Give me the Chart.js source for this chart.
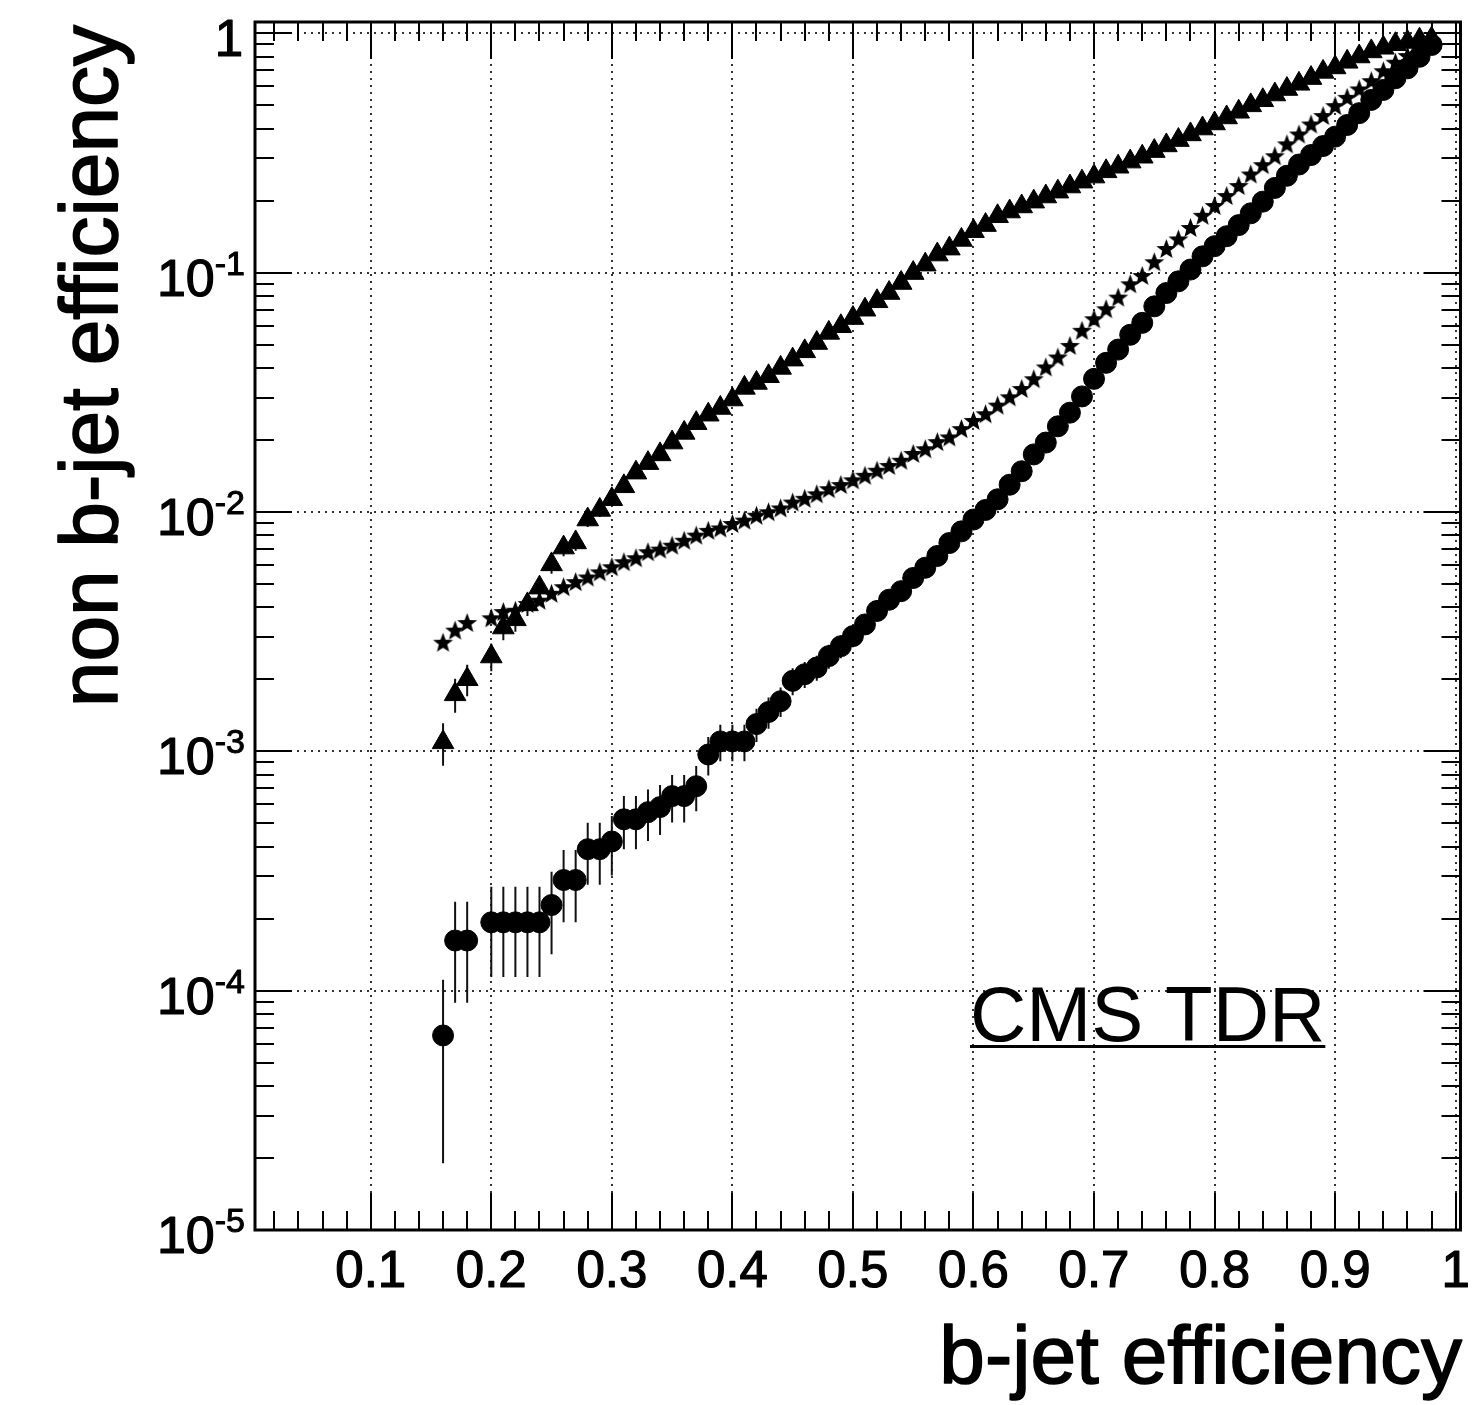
<!DOCTYPE html>
<html>
<head>
<meta charset="utf-8">
<script src="https://cdn.jsdelivr.net/npm/chart.js@4.4.0/dist/chart.umd.min.js"></script>
<style>
  html, body { margin: 0; padding: 0; background: #fff; }
  #wrap { width: 1474px; height: 1405px; }
</style>
</head>
<body>
<div id="wrap"><canvas id="roc" width="1474" height="1405"></canvas></div>
<script>
// b-jet efficiency (x) shared by the three curves
const bEff = [
  0.16, 0.17, 0.18, 0.19, 0.20, 0.21, 0.22, 0.23, 0.24, 0.25,
  0.26, 0.27, 0.28, 0.29, 0.30, 0.31, 0.32, 0.33, 0.34, 0.35,
  0.36, 0.37, 0.38, 0.39, 0.40, 0.41, 0.42, 0.43, 0.44, 0.45,
  0.46, 0.47, 0.48, 0.49, 0.50, 0.51, 0.52, 0.53, 0.54, 0.55,
  0.56, 0.57, 0.58, 0.59, 0.60, 0.61, 0.62, 0.63, 0.64, 0.65,
  0.66, 0.67, 0.68, 0.69, 0.70, 0.71, 0.72, 0.73, 0.74, 0.75,
  0.76, 0.77, 0.78, 0.79, 0.80, 0.81, 0.82, 0.83, 0.84, 0.85,
  0.86, 0.87, 0.88, 0.89, 0.90, 0.91, 0.92, 0.93, 0.94, 0.95,
  0.96, 0.97, 0.98
];

// non b-jet efficiency, filled circles (lowest curve)
const circleMistag = [
  6.5e-5, 1.62e-4, 1.62e-4, null, 1.93e-4, 1.93e-4, 1.93e-4, 1.93e-4, 1.93e-4, 2.28e-4,
  2.9e-4, 2.9e-4, 3.9e-4, 3.9e-4, 4.2e-4, 5.2e-4, 5.2e-4, 5.57e-4, 5.85e-4, 6.5e-4,
  6.5e-4, 7.15e-4, 9.7e-4, 1.1e-3, 1.1e-3, 1.1e-3, 1.3e-3, 1.46e-3, 1.62e-3, 1.97e-3,
  2.1e-3, 2.24e-3, 2.5e-3, 2.75e-3, 3.03e-3, 3.39e-3, 3.86e-3, 4.3e-3, 4.67e-3, 5.3e-3,
  5.85e-3, 6.55e-3, 7.42e-3, 8.3e-3, 9.3e-3, 1.02e-2, 1.13e-2, 1.3e-2, 1.48e-2, 1.74e-2,
  1.95e-2, 2.28e-2, 2.6e-2, 3.04e-2, 3.6e-2, 4.2e-2, 4.77e-2, 5.5e-2, 6.17e-2, 7.23e-2,
  8.22e-2, 9.2e-2, 0.103, 0.117, 0.129, 0.142, 0.158, 0.177, 0.198, 0.226,
  0.254, 0.283, 0.31, 0.338, 0.37, 0.414, 0.464, 0.527, 0.58, 0.649,
  0.714, 0.798, 0.894
];
// vertical error bars on the circles (only where they show)
const circleErr = [
  4.6e-5, 7.3e-5, 7.3e-5, null, 7.9e-5, 7.9e-5, 7.9e-5, 7.9e-5, 7.9e-5, 8.6e-5,
  9.7e-5, 9.7e-5, 1.13e-4, 1.13e-4, 1.17e-4, 1.3e-4, 1.3e-4, 1.35e-4, 1.38e-4, 1.46e-4,
  1.46e-4, 1.53e-4, 1.78e-4, 1.9e-4, 1.9e-4, 1.9e-4, 2.06e-4, 2.18e-4, 2.3e-4, 2.53e-4,
  2.6e-4, 2.7e-4, 2.85e-4, 3.0e-4, 3.1e-4
];

// non b-jet efficiency, filled stars (middle curve)
const starMistag = [
  2.83e-3, 3.18e-3, 3.42e-3, null, 3.58e-3, 3.8e-3, 3.85e-3, 4.11e-3, 4.24e-3, 4.53e-3,
  4.83e-3, 5.07e-3, 5.3e-3, 5.57e-3, 5.85e-3, 6.14e-3, 6.38e-3, 6.76e-3, 6.93e-3, 7.2e-3,
  7.55e-3, 7.93e-3, 8.3e-3, 8.5e-3, 8.87e-3, 9.16e-3, 9.6e-3, 9.93e-3, 1.03e-2, 1.09e-2,
  1.13e-2, 1.18e-2, 1.24e-2, 1.29e-2, 1.35e-2, 1.41e-2, 1.48e-2, 1.55e-2, 1.63e-2, 1.74e-2,
  1.82e-2, 1.95e-2, 2.04e-2, 2.21e-2, 2.39e-2, 2.55e-2, 2.77e-2, 3.0e-2, 3.25e-2, 3.57e-2,
  4.0e-2, 4.4e-2, 4.92e-2, 5.69e-2, 6.36e-2, 7.0e-2, 7.83e-2, 8.9e-2, 9.64e-2, 0.11,
  0.125, 0.137, 0.153, 0.172, 0.189, 0.208, 0.229, 0.256, 0.28, 0.305,
  0.342, 0.376, 0.414, 0.449, 0.494, 0.535, 0.58, 0.628, 0.691, 0.75,
  0.80, 0.86, 0.92
];

// non b-jet efficiency, filled triangles (upper curve)
const triMistag = [
  1.09e-3, 1.73e-3, 2.0e-3, null, 2.49e-3, 3.29e-3, 3.56e-3, 4.11e-3, 4.83e-3, 6.04e-3,
  7.1e-3, 7.46e-3, 9.3e-3, 1.02e-2, 1.13e-2, 1.28e-2, 1.46e-2, 1.6e-2, 1.74e-2, 1.95e-2,
  2.14e-2, 2.35e-2, 2.55e-2, 2.72e-2, 2.95e-2, 3.3e-2, 3.46e-2, 3.69e-2, 4.0e-2, 4.33e-2,
  4.69e-2, 5.08e-2, 5.6e-2, 5.97e-2, 6.46e-2, 7.0e-2, 7.59e-2, 8.22e-2, 9.05e-2, 9.96e-2,
  0.108, 0.119, 0.126, 0.137, 0.149, 0.158, 0.172, 0.18, 0.189, 0.198,
  0.208, 0.218, 0.229, 0.24, 0.252, 0.265, 0.277, 0.291, 0.305, 0.322,
  0.34, 0.358, 0.378, 0.40, 0.42, 0.445, 0.47, 0.50, 0.525, 0.555,
  0.585, 0.615, 0.65, 0.69, 0.72, 0.76, 0.80, 0.84, 0.87, 0.90,
  0.92, 0.94, 0.95
];
const triErr = [
  2.2e-4, 2.8e-4, 3.0e-4, null, 3.3e-4, 3.8e-4, 4.0e-4, 4.3e-4, 4.6e-4, 5.2e-4,
  5.6e-4, 5.8e-4, 6.4e-4, 6.7e-4
];

// axis ticks and labels
const xMajor = [0.1, 0.2, 0.3, 0.4, 0.5, 0.6, 0.7, 0.8, 0.9, 1.0];
const xLabels = ['0.1', '0.2', '0.3', '0.4', '0.5', '0.6', '0.7', '0.8', '0.9', '1'];
const xMinorStep = 0.02;
const yDecades = [-5, -4, -3, -2, -1, 0];

const FONT = '"Liberation Sans", Arial, Helvetica, sans-serif';

function toPoints(vals) {
    const pts = [];
    vals.forEach((v, i) => {
        if (v !== null) pts.push({x: bEff[i], y: v});
    });
    return pts;
}

// filled five-point star for the middle curve
function makeStar(outer, inner) {
    const c = document.createElement('canvas');
    const size = Math.ceil(outer * 2 + 2);
    c.width = size;
    c.height = size;
    const g = c.getContext('2d');
    g.translate(size / 2, size / 2);
    g.beginPath();
    for (let i = 0; i < 10; i++) {
        const r = i % 2 === 0 ? outer : inner;
        const a = -Math.PI / 2 + i * Math.PI / 5;
        if (i === 0) g.moveTo(r * Math.cos(a), r * Math.sin(a));
        else g.lineTo(r * Math.cos(a), r * Math.sin(a));
    }
    g.closePath();
    g.fillStyle = '#000';
    g.fill();
    return c;
}

// text a little heavier, like the Helvetica of the original
function boldText(ctx, txt, px, py, w) {
    ctx.fillText(txt, px, py);
    ctx.lineWidth = w;
    ctx.strokeText(txt, px, py);
}

// ROOT style frame: dotted grid, inner ticks on all sides, labels
const rootFrame = {
    id: 'rootFrame',
    beforeDatasetsDraw(chart) {
        const {ctx, chartArea: a, scales: {x, y}} = chart;
        ctx.save();
        ctx.strokeStyle = '#333';
        ctx.lineWidth = 2;
        ctx.setLineDash([2, 5]);
        xMajor.forEach(v => {
            const px = Math.round(x.getPixelForValue(v));
            ctx.beginPath();
            ctx.moveTo(px, a.top);
            ctx.lineTo(px, a.bottom);
            ctx.stroke();
        });
        yDecades.forEach(d => {
            const py = Math.round(y.getPixelForValue(Math.pow(10, d)));
            ctx.beginPath();
            ctx.moveTo(a.left, py);
            ctx.lineTo(a.right, py);
            ctx.stroke();
        });
        ctx.setLineDash([]);

        // error bars
        ctx.beginPath();
        ctx.rect(a.left, a.top, a.width, a.height);
        ctx.clip();
        ctx.strokeStyle = '#111';
        ctx.lineWidth = 2;
        [[circleMistag, circleErr], [triMistag, triErr]].forEach(([vals, errs]) => {
            errs.forEach((e, i) => {
                if (!e || vals[i] === null) return;
                const px = x.getPixelForValue(bEff[i]);
                const lo = Math.max(vals[i] - e, y.min);
                ctx.beginPath();
                ctx.moveTo(px, y.getPixelForValue(vals[i] + e));
                ctx.lineTo(px, y.getPixelForValue(lo));
                ctx.stroke();
            });
        });
        ctx.restore();
    },
    afterDatasetsDraw(chart) {
        const {ctx, chartArea: a, scales: {x, y}} = chart;
        ctx.save();
        ctx.strokeStyle = '#000';
        ctx.lineWidth = 2;

        // x ticks, bottom and top
        for (let k = 1; k * xMinorStep <= x.max + 1e-9; k++) {
            const v = k * xMinorStep;
            const px = Math.round(x.getPixelForValue(v));
            const len = k % 5 === 0 ? 37 : 19;
            ctx.beginPath();
            ctx.moveTo(px, a.bottom);
            ctx.lineTo(px, a.bottom - len);
            ctx.moveTo(px, a.top);
            ctx.lineTo(px, a.top + len);
            ctx.stroke();
        }
        // y ticks, left and right
        yDecades.forEach(d => {
            for (let m = 1; m <= 9; m++) {
                const v = m * Math.pow(10, d);
                if (v > y.max) break;
                const py = Math.round(y.getPixelForValue(v));
                const len = m === 1 ? 37 : 19;
                ctx.beginPath();
                ctx.moveTo(a.left, py);
                ctx.lineTo(a.left + len, py);
                ctx.moveTo(a.right, py);
                ctx.lineTo(a.right - len, py);
                ctx.stroke();
            }
        });

        // frame
        ctx.lineWidth = 3;
        ctx.strokeRect(a.left, a.top, a.width, a.height);

        ctx.fillStyle = '#000';
        ctx.lineJoin = 'round';
        // x tick labels
        ctx.font = '51px ' + FONT;
        ctx.textAlign = 'center';
        ctx.textBaseline = 'alphabetic';
        xMajor.forEach((v, i) => {
            boldText(ctx, xLabels[i], x.getPixelForValue(v), a.bottom + 57, 1.2);
        });

        // y tick labels with superscript exponents
        yDecades.forEach(d => {
            const py = y.getPixelForValue(Math.pow(10, d));
            if (d === 0) {
                ctx.font = '51px ' + FONT;
                ctx.textAlign = 'right';
                boldText(ctx, '1', 243, py + 23, 1.2);
                return;
            }
            const expText = '-' + Math.abs(d);
            ctx.font = '34px ' + FONT;
            const ew = ctx.measureText(expText).width;
            ctx.textAlign = 'left';
            boldText(ctx, expText, 245 - ew, py + 2, 1);
            ctx.font = '52px ' + FONT;
            ctx.textAlign = 'right';
            boldText(ctx, '10', 245 - ew, py + 23, 1.2);
        });

        // axis titles
        ctx.font = '82px ' + FONT;
        ctx.textAlign = 'right';
        boldText(ctx, 'b-jet efficiency', 1462, 1383, 1.6);

        ctx.save();
        ctx.translate(117, 25);
        ctx.rotate(-Math.PI / 2);
        ctx.textAlign = 'right';
        boldText(ctx, 'non b-jet efficiency', 0, 0, 1.6);
        ctx.restore();

        // CMS TDR label, underlined
        ctx.font = '78px ' + FONT;
        ctx.textAlign = 'left';
        const tag = 'CMS TDR';
        ctx.fillText(tag, 970, 1041);
        const tw = ctx.measureText(tag).width;
        ctx.fillRect(970, 1045, tw, 3);

        ctx.restore();
    }
};

const ctx = document.getElementById('roc').getContext('2d');
new Chart(ctx, {
    type: 'scatter',
    data: {
        datasets: [
            {
                label: 'triangles',
                data: toPoints(triMistag),
                pointStyle: 'triangle',
                pointRadius: 12.5,
                backgroundColor: '#000',
                borderColor: '#000',
                borderWidth: 1
            },
            {
                label: 'stars',
                data: toPoints(starMistag),
                pointStyle: makeStar(10.5, 4.4),
                pointRadius: 10.5,
                backgroundColor: '#000',
                borderColor: '#000'
            },
            {
                label: 'circles',
                data: toPoints(circleMistag),
                pointStyle: 'circle',
                pointRadius: 10.5,
                backgroundColor: '#000',
                borderColor: '#000',
                borderWidth: 1
            }
        ]
    },
    options: {
        responsive: false,
        animation: false,
        devicePixelRatio: 1,
        layout: {
            padding: {left: 255, right: 11, top: 22, bottom: 175}
        },
        scales: {
            x: {
                type: 'linear',
                min: 0.004,
                max: 1.004,
                display: false
            },
            y: {
                type: 'logarithmic',
                min: 1e-5,
                max: 1.115,
                display: false
            }
        },
        plugins: {
            legend: {display: false},
            tooltip: {enabled: false}
        }
    },
    plugins: [rootFrame]
});
</script>
</body>
</html>
